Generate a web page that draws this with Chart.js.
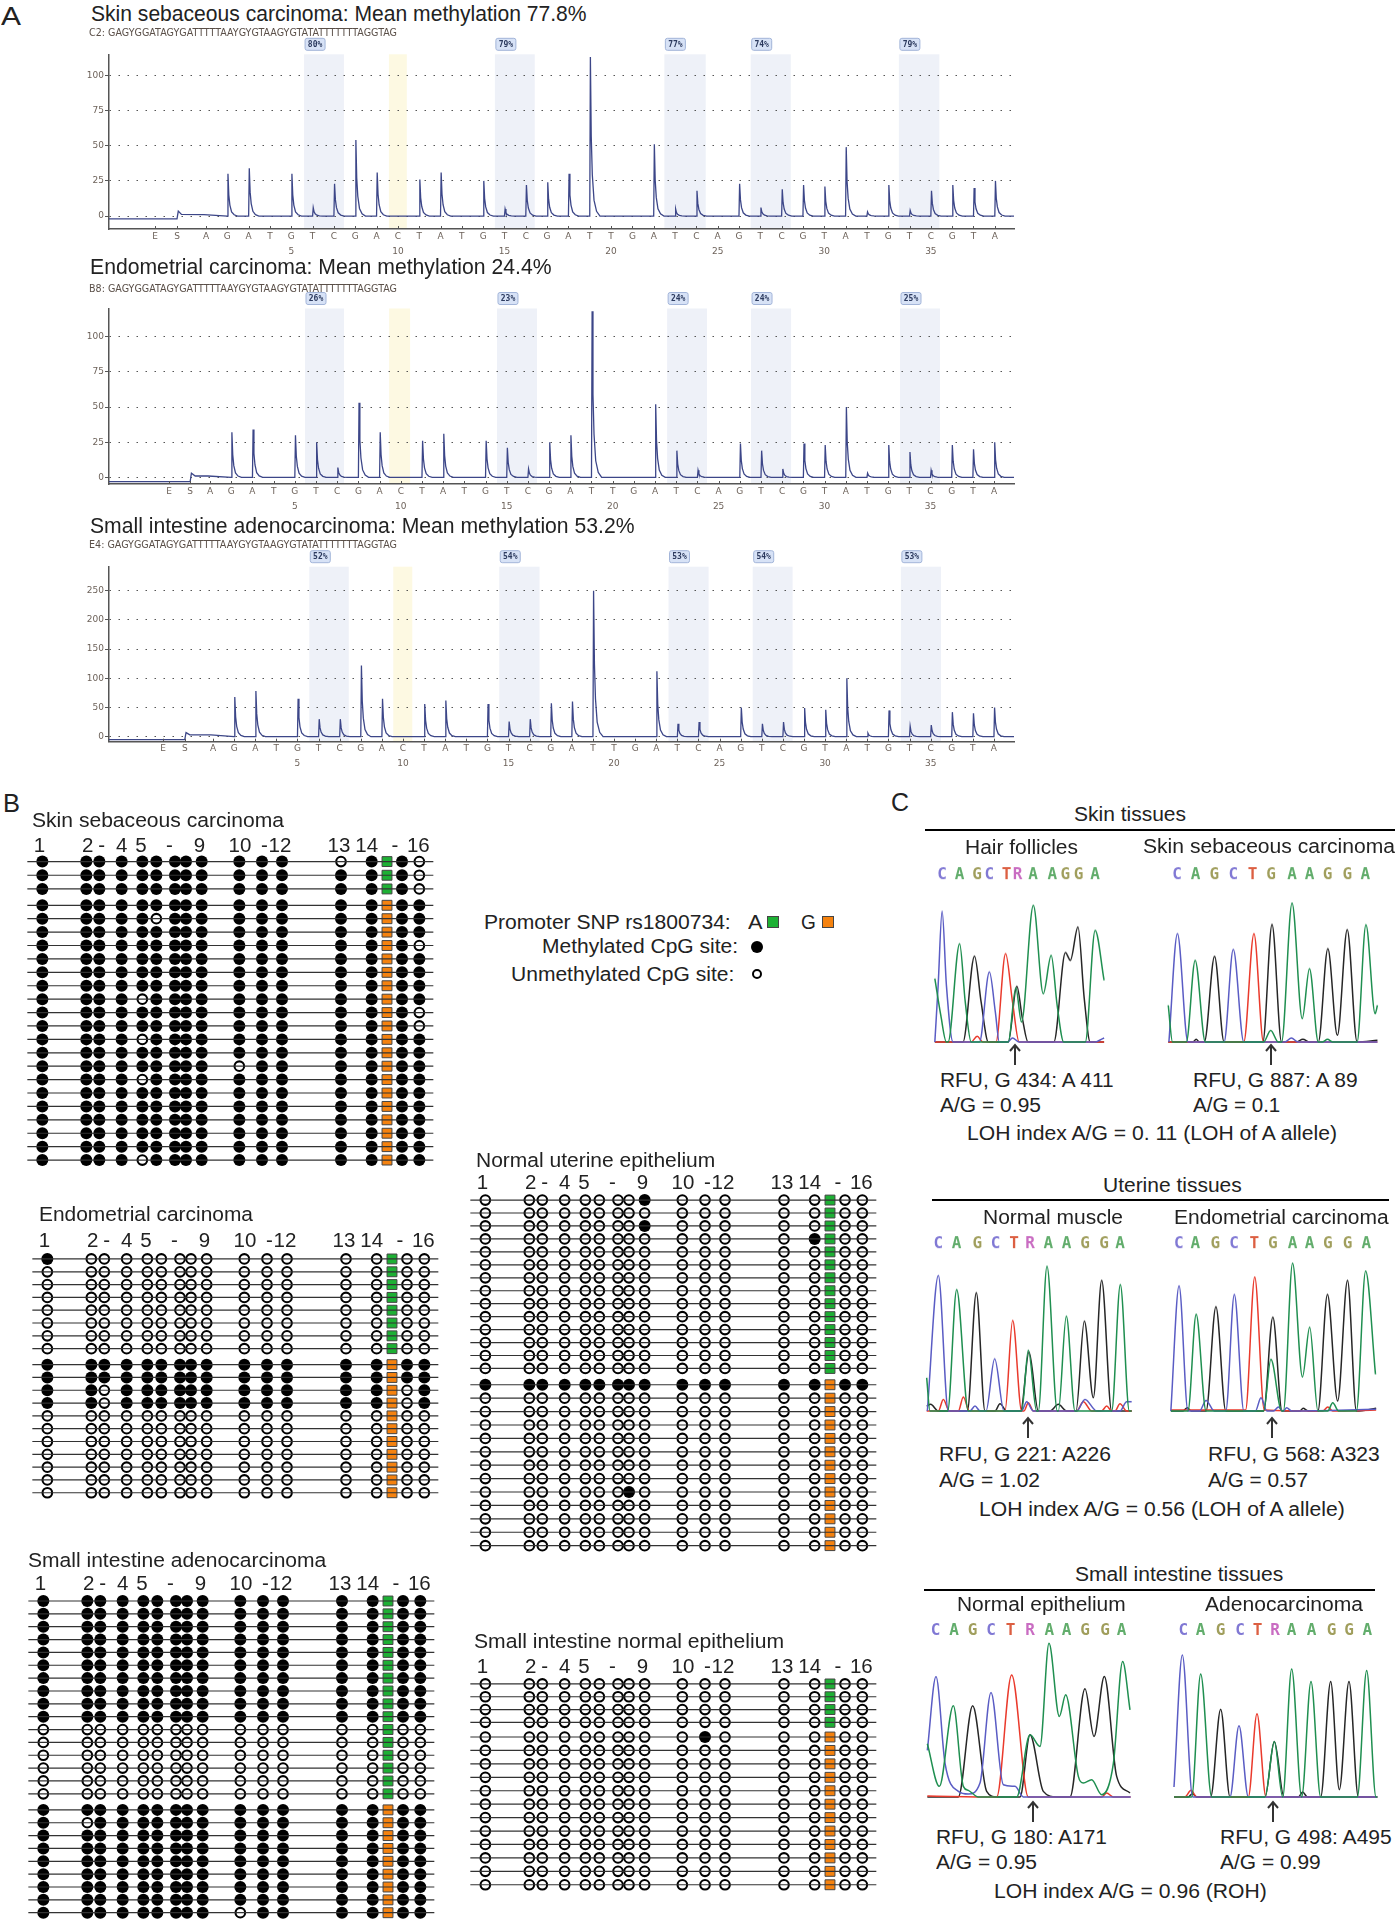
<!DOCTYPE html>
<html>
<head>
<meta charset="utf-8">
<title>MLH1 promoter methylation and LOH</title>
<script src="https://cdn.jsdelivr.net/npm/chart.js@4/dist/chart.umd.min.js"></script>
<style>
    html, body { margin: 0; padding: 0; background: #fff; }
    #page { position: relative; width: 1397px; height: 1920px; overflow: hidden; background: #fff; filter: blur(0.3px); }
    #page canvas { position: absolute; }
    .txt { position: absolute; white-space: pre; transform-origin: left center; color: #222; font-family: "Liberation Sans", Arial, sans-serif; }
    .box { position: absolute; box-sizing: border-box; }
</style>
</head>
<body>
<div id="page"></div>
<script>
// ---- panel A: pyrosequencing ----
const dispensation = ["A","G","A","T","G","T","C","G","A","C","T","A","T","G","T","C","G","A","T","T","G","A","T","C","A","G","T","C","G","T","A","T","G","T","C","G","T","A"];
const skinPeaks = [1,30,34,0,30,6,23,54,31,0,26,31,0,25,5,22,24,30,113,0,0,51,5,18,0,23,6,19,22,21,49,3,22,4,18,22,20,25];
const endoPeaks = [1,32,34,0,30,25,7,53,32,0,26,31,0,26,21,6,25,30,118,0,0,52,19,5,0,24,19,6,24,23,50,3,23,18,5,23,20,25];
const adenoPeaks = [2,68,78,0,65,30,30,122,65,0,56,62,0,56,26,30,57,60,250,0,0,112,22,25,0,50,22,25,49,46,100,6,45,18,20,42,40,50];
const skinPct = ["80%","79%","77%","74%","79%"];
const endoPct = ["26%","23%","24%","24%","25%"];
const adenoPct = ["52%","54%","53%","54%","53%"];
const skinBands = [[5.6,7.47],[14.55,16.42],[22.5,24.44],[26.55,28.43],[33.5,35.4]];
const endoBands = [[5.48,7.32],[14.54,16.43],[22.57,24.45],[26.53,28.42],[33.56,35.45]];
const adenoBands = [[5.56,7.43],[14.56,16.47],[22.58,24.48],[26.57,28.46],[33.59,35.49]];
const skinLead = [[-3.55,-2],[-0.36,-2],[-0.3,3.5],[-0.15,1.2],[0.9,1]];
const endoLead = [[-3.77,-3],[0.06,-3],[0.12,3],[0.3,1],[0.9,1]];
const adenoLead = [[-3.93,-5],[-0.34,-5],[-0.28,7],[-0.1,3],[0.9,3]];
const skinTicks = [0,25,50,75,100];
const adenoTicks = [0,50,100,150,200,250];

// ---- panel B: clones, one string per clone, 1 = methylated, 0 = unmethylated ----
const cpgSites = [127,259,298,365,427,469,525,558,605,718,786,846,1023,1115,1206,1258];
const snpSite = 1161;
const siteTicks = [118,263,305,365,423,508,598,720,793,840,1017,1100,1185,1255];
const siteLabels = ["1","2","-","4","5","-","9","10","-","12","13","14","-","16"];
const skinA = ["1111111111110110","1111111111111110","1111111111111110"];
const skinG = ["1111111111111111","1111101111111111","1111111111111111","1111111111111110","1111111111111111","1111111111111111","1111111111111111","1111011111111111","1111111111111110","1111111111111110","1111011111111111","1111111111111111","1111111110111111","1111011111111111","1111111111111111","1111111111111111","1111111111111111","1111111111111111","1111111111111111","1111011111111111"];
const endoA = ["1000000000000000","0000000000000000","0000000000000000","0000000000000000","0000000000000000","0000000000000000","0000000000000000","0000000000000000"];
const endoG = ["1111111111111111","1111111111111111","1101111111111101","1101111111111101","0000000000000000","0000000000000000","0000000000000000","0000000000000000","0000000000000000","0000000000000000","0000000000000000"];
const adenoA = ["1111111111111111","1111111111111111","1111111111111111","1111111111111111","1111111111111111","1111111111111111","1111111111111111","1111111111111111","1111111111111111","1111111111111111","0000000000000000","0000000000000000","0000000000000000","0000000000000000","0000000000000000","0000000000000000"];
const adenoG = ["1111111111111111","1011111111111111","1111111111111111","1111111111111111","1111111111111111","1111111111111111","1111111111111111","1111111111111111","1111111110111111"];
const uterineA = ["0000000010000000","0000000000000000","0000000010000000","0000000000000100","0000000000000000","0000000000000000","0000000000000000","0000000000000000","0000000000000000","0000000000000000","0000000000000000","0000000000000000","0000000000000000","0000000000000000"];
const uterineG = ["1111111111111111","0000000000000000","0000000000000000","0000000000000000","0000000000000000","0000000000000000","0000000000000000","0000000000000000","0000000100000000","0000000000000000","0000000000000000","0000000000000000","0000000000000000"];
const intestineA = ["0000000000000000","0000000000000000","0000000000000000","0000000000000000"];
const intestineG = ["0000000000100000","0000000000000000","0000000000000000","0000000000000000","0000000000000000","0000000000000000","0000000000000000","0000000000000000","0000000000000000","0000000000000000","0000000000000000","0000000000000000"];

// ---- panel C: electropherograms, [scan, signal] ----
const hairBlue = [[100,0],[110,170],[122,393],[135,170],[155,0],[235,0],[265,210],[283,90],[295,0],[320,0],[335,12],[355,0],[585,0],[600,6],[612,12]];
const hairGreen = [[100,190],[118,80],[135,0],[140,0],[175,295],[192,120],[210,0],[322,0],[345,163],[362,60],[398,410],[428,145],[452,260],[470,110],[490,0],[555,0],[585,335],[612,185]];
const hairBlack = [[100,0],[185,0],[220,258],[240,120],[262,0],[322,0],[348,167],[365,70],[382,0],[460,0],[495,268],[510,245],[533,345],[552,130],[570,0],[612,0]];
const hairRed = [[100,0],[210,0],[228,17],[245,0],[285,0],[314,265],[335,120],[355,0],[612,0]];

const sebBlue = [[797,0],[823,325],[855,0],[965,0],[993,278],[1025,0],[1150,0],[1170,12],[1190,0],[1432,0]];
const sebGreen = [[795,110],[808,0],[850,0],[877,245],[908,0],[1085,0],[1107,35],[1130,0],[1140,0],[1172,417],[1203,70],[1225,220],[1252,0],[1265,0],[1280,8],[1295,0],[1370,0],[1397,352],[1425,85],[1432,110]];
const sebBlack = [[795,0],[870,0],[880,8],[890,0],[905,0],[936,257],[965,0],[1083,0],[1111,353],[1140,0],[1185,0],[1205,8],[1225,0],[1252,0],[1281,280],[1310,20],[1340,337],[1370,0],[1432,5]];
const sebRed = [[795,0],[1025,0],[1056,325],[1085,0],[1432,0]];

const muscleBlue = [[82,0],[115,406],[145,0],[210,0],[225,15],[240,0],[258,0],[284,157],[312,0],[365,0],[380,28],[400,0],[530,0],[555,35],[590,0],[660,0],[680,28],[695,28]];
const muscleGreen = [[80,100],[90,0],[143,0],[170,364],[205,0],[365,0],[385,182],[410,0],[415,0],[441,434],[472,0],[475,0],[499,285],[525,0],[635,0],[661,379],[688,0],[695,0]];
const muscleBlack = [[80,15],[92,20],[115,0],[202,0],[229,355],[255,0],[285,0],[300,22],[320,0],[362,0],[387,177],[415,0],[450,0],[475,20],[500,0],[528,0],[553,270],[580,40],[605,392],[635,0],[695,0]];
const muscleRed = [[80,0],[115,0],[130,35],[148,0],[175,0],[190,42],[208,0],[315,0],[338,272],[365,0],[372,0],[385,25],[400,0],[530,0],[550,28],[575,0],[605,0],[620,15],[635,0],[645,0],[660,22],[680,0],[695,0]];

const endoBlue = [[808,0],[833,375],[860,0],[895,0],[915,32],[940,0],[975,0],[1001,350],[1030,0],[1065,0],[1082,40],[1100,0],[1120,0],[1135,12],[1148,0],[1150,0],[1160,10],[1175,0],[1432,5]];
const endoGreen = [[808,0],[860,0],[885,290],[915,0],[1090,0],[1112,155],[1145,0],[1150,0],[1178,443],[1208,102],[1230,252],[1255,0],[1285,0],[1300,25],[1318,0],[1372,0],[1400,420],[1430,110]];
const endoBlack = [[808,0],[845,0],[858,10],[870,0],[915,0],[945,313],[975,0],[1090,0],[1118,282],[1146,0],[1200,0],[1210,8],[1225,0],[1255,0],[1284,350],[1315,30],[1345,392],[1372,0],[1432,8]];
const endoRed = [[808,3],[1035,3],[1063,402],[1092,3],[1270,0],[1285,12],[1300,0],[1432,3]];

const epiBlue = [[82,140],[108,362],[135,102],[175,17],[205,9],[240,42],[273,314],[310,37],[345,32],[370,0],[692,0]];
const epiGreen = [[82,160],[118,32],[160,274],[190,32],[205,20],[235,0],[350,0],[390,187],[420,152],[447,462],[478,242],[497,307],[535,62],[550,42],[575,52],[605,7],[640,100],[668,407],[690,262]];
const epiBlack = [[82,0],[175,0],[218,274],[260,17],[290,0],[360,0],[390,187],[430,17],[470,0],[510,0],[555,325],[582,182],[613,362],[650,62],[690,12]];
const epiRed = [[82,3],[290,0],[335,367],[385,0],[605,0],[620,12],[640,0],[692,0]];

const carcBlue = [[822,30],[847,427],[878,0],[990,0],[1017,214],[1045,0],[1432,0]];
const carcGreen = [[822,0],[875,0],[902,370],[935,0],[1095,0],[1123,167],[1148,0],[1175,385],[1205,0],[1233,347],[1262,0],[1372,0],[1400,380],[1428,0],[1432,0]];
const carcBlack = [[822,0],[865,0],[877,10],[890,0],[932,0],[962,264],[990,0],[1095,0],[1123,167],[1152,0],[1195,0],[1208,15],[1222,0],[1262,0],[1292,347],[1318,22],[1347,347],[1375,0],[1432,0]];
const carcRed = [[822,0],[855,0],[873,20],[890,0],[1045,0],[1071,250],[1098,0],[1432,0]];

const hairBases = [[122,"C"],[175,"A"],[228,"G"],[265,"C"],[317,"T"],[350,"R"],[397,"A"],[455,"A"],[495,"G"],[535,"G"],[585,"A"]];
const sebBases = [[822,"C"],[878,"A"],[935,"G"],[993,"C"],[1052,"T"],[1108,"G"],[1172,"A"],[1225,"A"],[1280,"G"],[1340,"G"],[1395,"A"]];
const muscleBases = [[115,"C"],[170,"A"],[232,"G"],[287,"C"],[342,"T"],[390,"R"],[445,"A"],[500,"A"],[555,"G"],[612,"G"],[660,"A"]];
const endoBases = [[832,"C"],[882,"A"],[943,"G"],[1000,"C"],[1062,"T"],[1118,"G"],[1178,"A"],[1230,"A"],[1285,"G"],[1345,"G"],[1402,"A"]];
const epiBases = [[107,"C"],[162,"A"],[218,"G"],[273,"C"],[332,"T"],[390,"R"],[448,"A"],[500,"A"],[555,"G"],[615,"G"],[665,"A"]];
const carcBases = [[850,"C"],[902,"A"],[962,"G"],[1020,"C"],[1073,"T"],[1125,"R"],[1175,"A"],[1235,"A"],[1295,"G"],[1347,"G"],[1402,"A"]];

const page = document.getElementById("page");
Chart.defaults.font.family = "'Liberation Sans', Arial, sans-serif";
Chart.defaults.animation = false;
Chart.defaults.layout.autoPadding = false;

const addCanvas = (left, top, width, height) => {
    const canvas = document.createElement("canvas");
    canvas.width = width;
    canvas.height = height;
    canvas.style.left = left + "px";
    canvas.style.top = top + "px";
    canvas.style.width = width + "px";
    canvas.style.height = height + "px";
    page.appendChild(canvas);
    return canvas;
};

// text squeezed to the width it has in the figure
const addText = (str, left, right, cy, size, opts = {}) => {
    const el = document.createElement("div");
    el.className = "txt";
    el.textContent = str;
    el.style.left = left + "px";
    el.style.fontSize = size + "px";
    el.style.lineHeight = size * 1.2 + "px";
    el.style.top = cy - size * 0.6 + "px";
    if (opts.color) el.style.color = opts.color;
    if (opts.font) el.style.fontFamily = opts.font;
    page.appendChild(el);
    el.style.transform = "scaleX(" + (right - left) / el.getBoundingClientRect().width + ")";
};

const addBox = (left, top, width, height, css) => {
    const el = document.createElement("div");
    el.className = "box";
    el.style.cssText = `left:${left}px;top:${top}px;width:${width}px;height:${height}px;${css}`;
    page.appendChild(el);
};

const addArrow = (x, y1, y2) => {
    const svg = document.createElementNS("http://www.w3.org/2000/svg", "svg");
    svg.setAttribute("width", 16);
    svg.setAttribute("height", y2 - y1 + 2);
    svg.style.cssText = `position:absolute;left:${x - 8}px;top:${y1 - 1}px;`;
    const h = y2 - y1 + 1;
    svg.innerHTML = `<path d="M8 ${h}V2M3 8L8 2L13 8" fill="none" stroke="#333" stroke-width="2"/>`;
    page.appendChild(svg);
};

// sharp rise and a decaying tail for every dispensation that gave a signal
const peakShape = [[0,0],[0.03,1],[0.07,0.5],[0.12,0.26],[0.2,0.1],[0.32,0.03],[0.48,0]];
const buildTrace = (heights, lead, xMax) => {
    const pts = lead.map(([x, y]) => ({ x, y }));
    heights.forEach((h, i) => {
        if (h === 0 || i === 0) return;
        peakShape.forEach(([dx, k]) => pts.push({ x: i + 1 + dx, y: h * k }));
    });
    pts.push({ x: xMax, y: 0 });
    return pts;
};

const pyroPlugin = (bands, yellow, pct) => ({
    id: "pyroBands",
    beforeDraw(chart) {
        const { ctx, chartArea, scales } = chart;
        ctx.save();
        ctx.fillStyle = "#eef1f8";
        bands.forEach(([a, b]) => {
            const x0 = scales.x.getPixelForValue(a);
            ctx.fillRect(x0, chartArea.top, scales.x.getPixelForValue(b) - x0, chartArea.bottom - chartArea.top);
        });
        ctx.fillStyle = "#fdf9e2";
        const y0 = scales.x.getPixelForValue(yellow[0]);
        ctx.fillRect(y0, chartArea.top, scales.x.getPixelForValue(yellow[1]) - y0, chartArea.bottom - chartArea.top);
        ctx.restore();
    },
    afterDraw(chart) {
        const { ctx, chartArea, scales } = chart;
        ctx.save();
        // short marks sit inside the plot, above the axis line
        ctx.strokeStyle = "#555";
        ctx.lineWidth = 1;
        scales.x.ticks.forEach((t) => {
            const px = Math.round(scales.x.getPixelForValue(t.value)) + 0.5;
            ctx.beginPath();
            ctx.moveTo(px, chartArea.bottom);
            ctx.lineTo(px, chartArea.bottom - 3);
            ctx.stroke();
        });
        bands.forEach(([a], i) => {
            const x0 = scales.x.getPixelForValue(a);
            const y = chartArea.top - 16;
            ctx.beginPath();
            ctx.roundRect(x0 + 1, y, 20, 12, 2);
            ctx.fillStyle = "#d7e2f6";
            ctx.fill();
            ctx.strokeStyle = "#a3b5d9";
            ctx.stroke();
            ctx.fillStyle = "#2c3a5e";
            ctx.font = "bold 8px 'DejaVu Sans Mono'";
            ctx.textAlign = "center";
            ctx.textBaseline = "middle";
            ctx.fillText(pct[i], x0 + 11, y + 6.5);
        });
        ctx.restore();
    },
});

const drawPyro = (p) => {
    const canvas = addCanvas(80, p.top, 940, p.bottom - p.top);
    const tickValues = [p.ePos, p.sPos, ...dispensation.map((_, i) => i + 1)];
    const letters = ["E", "S", ...dispensation];
    return new Chart(canvas, {
        type: "scatter",
        data: {
            datasets: [{
                data: buildTrace(p.peaks, p.lead, p.xMax),
                showLine: true,
                borderColor: "#3c4688",
                borderWidth: 1.3,
                pointRadius: 0,
                tension: 0,
            }],
        },
        options: {
            responsive: false,
            layout: { padding: { top: p.plotTop - p.top, right: 6 } },
            plugins: { legend: { display: false }, tooltip: { enabled: false } },
            scales: {
                x: {
                    type: "linear",
                    min: p.xMin,
                    max: p.xMax,
                    afterBuildTicks: (s) => { s.ticks = tickValues.map((value) => ({ value })); },
                    afterFit: (s) => { s.height = p.bottom - p.plotBottom; },
                    grid: { display: false, drawTicks: false },
                    border: { color: "#555", width: 1.5 },
                    ticks: {
                        autoSkip: false,
                        maxRotation: 0,
                        padding: 0,
                        color: "#6d625a",
                        font: { size: 9, family: "'DejaVu Sans'", lineHeight: 1.65 },
                        callback: (value, i) => [letters[i], i >= 2 && (i - 1) % 5 === 0 ? String(i - 1) : ""],
                    },
                },
                y: {
                    min: p.yMin,
                    max: p.yMax,
                    afterBuildTicks: (s) => { s.ticks = p.ticks.map((value) => ({ value })); },
                    afterFit: (s) => { s.width = 29; },
                    grid: { color: "#555", tickLength: 4, tickColor: "#555", tickBorderDash: [] },
                    border: { color: "#555", width: 1.5, dash: [1.5, 7.5] },
                    ticks: { padding: 1, color: "#6d625a", font: { size: 9, family: "'DejaVu Sans'" } },
                },
            },
        },
        plugins: [pyroPlugin(p.bands, p.yellow, p.pct)],
    });
};

drawPyro({ top: 36, bottom: 261, plotTop: 54.3, plotBottom: 229, xMin: -3.55, xMax: 38.9, yMin: -9.2, yMax: 115,
    ePos: -1.39, sPos: -0.36, peaks: skinPeaks, lead: skinLead, ticks: skinTicks, bands: skinBands, yellow: [9.58,10.42], pct: skinPct });
drawPyro({ top: 288, bottom: 520, plotTop: 308.5, plotBottom: 484, xMin: -3.77, xMax: 38.94, yMin: -4.7, yMax: 120,
    ePos: -0.93, sPos: 0.06, peaks: endoPeaks, lead: endoLead, ticks: skinTicks, bands: endoBands, yellow: [9.45,10.44], pct: endoPct });
drawPyro({ top: 546, bottom: 775, plotTop: 566.7, plotBottom: 741.7, xMin: -3.93, xMax: 38.95, yMin: -8.6, yMax: 291,
    ePos: -1.37, sPos: -0.34, peaks: adenoPeaks, lead: adenoLead, ticks: adenoTicks, bands: adenoBands, yellow: [9.54,10.44], pct: adenoPct });

// clone plots: one line per clone with the 16 CpG sites and the SNP allele on it
const drawClones = (p) => {
    const axisH = 30;
    const rows = [];
    p.a.forEach((r, i) => rows.push({ r, y: i, allele: "A" }));
    const gStart = p.a.length + p.gap;
    p.g.forEach((r, i) => rows.push({ r, y: gStart + i * p.ratio, allele: "G" }));
    const lastY = rows[rows.length - 1].y;
    const plotTop = p.firstRow - 0.7 * p.step;
    const plotH = (lastY + 0.8) * p.step + 0.7 * p.step;
    const height = Math.ceil(plotH + axisH);
    const top = plotTop - axisH;
    const canvas = addCanvas(p.shift + 20, top, 425, height);

    const datasets = rows.map((row) => ({
        data: [{ x: 82, y: row.y }, { x: 1300, y: row.y }],
        showLine: true,
        borderColor: "#333",
        borderWidth: 1.2,
        pointRadius: 0,
    }));
    const marks = [];
    rows.forEach((row) => {
        cpgSites.forEach((x, i) => marks.push({ x, y: row.y, on: row.r[i] === "1" }));
    });
    datasets.push({
        data: marks,
        pointRadius: (c) => (c.raw.on ? 6 : 4.8),
        pointBackgroundColor: (c) => (c.raw.on ? "#000" : "#fff"),
        pointBorderColor: "#000",
        pointBorderWidth: (c) => (c.raw.on ? 0 : 2.1),
    });
    datasets.push({
        data: rows.map((row) => ({ x: snpSite, y: row.y, allele: row.allele })),
        pointStyle: "rect",
        pointRadius: 7,
        pointBackgroundColor: (c) => (c.raw.allele === "A" ? "#1db034" : "#f5820f"),
        pointBorderColor: "#444",
        pointBorderWidth: 1,
    });

    return new Chart(canvas, {
        type: "scatter",
        data: { datasets },
        options: {
            responsive: false,
            plugins: { legend: { display: false }, tooltip: { enabled: false } },
            scales: {
                x: {
                    type: "linear",
                    position: "top",
                    min: 60,
                    max: 60 + 425 * 3,
                    afterBuildTicks: (s) => { s.ticks = siteTicks.map((value) => ({ value })); },
                    afterFit: (s) => { s.height = axisH; },
                    grid: { display: false, drawTicks: false },
                    border: { display: false },
                    ticks: {
                        autoSkip: false,
                        maxRotation: 0,
                        padding: p.labelPad,
                        color: "#222",
                        font: { size: 20.5 },
                        callback: (value, i) => siteLabels[i],
                    },
                },
                y: {
                    display: false,
                    reverse: true,
                    min: -0.7,
                    max: plotH / p.step - 0.7,
                },
            },
        },
    });
};

drawClones({ a: skinA, g: skinG, shift: 0, firstRow: 861.7, step: 13.67, gap: 0.195, ratio: 0.98, labelPad: -6.5 });
drawClones({ a: endoA, g: endoG, shift: 4.67, firstRow: 1259.3, step: 12.78, gap: 0.25, ratio: 1, labelPad: -4 });
drawClones({ a: adenoA, g: adenoG, shift: 0.67, firstRow: 1601.3, step: 12.82, gap: 0.25, ratio: 1, labelPad: -5 });
drawClones({ a: uterineA, g: uterineG, shift: 442.7, firstRow: 1199.9, step: 12.95, gap: 0.26, ratio: 1.035, labelPad: -5 });
drawClones({ a: intestineA, g: intestineG, shift: 443.3, firstRow: 1684, step: 12.78, gap: 0.148, ratio: 1.05, labelPad: -5 });

// electropherograms
const baseColors = { C: "#8078d4", A: "#62ad6c", G: "#a09e5c", T: "#dc5f42", R: "#c96cc2" };
const drawTraces = (p) => {
    const axisH = 45;
    const canvas = addCanvas(p.left, p.plotTop - axisH, p.width, p.plotBottom - p.plotTop + axisH);
    const toPoints = (arr) => arr.map(([x, y]) => ({ x, y }));
    const line = (arr, color) => ({
        data: toPoints(arr),
        showLine: true,
        borderColor: color,
        borderWidth: 1.5,
        pointRadius: 0,
        cubicInterpolationMode: "monotone",
    });
    return new Chart(canvas, {
        type: "scatter",
        data: {
            datasets: [
                line(p.green, "#1f8f50"),
                line(p.blue, "#5a5cc4"),
                line(p.red, "#ea3a2c"),
                line(p.black, "#262626"),
            ],
        },
        options: {
            responsive: false,
            plugins: { legend: { display: false }, tooltip: { enabled: false } },
            scales: {
                x: {
                    type: "linear",
                    position: "top",
                    min: (p.left - 900) * 3,
                    max: (p.left + p.width - 900) * 3,
                    afterBuildTicks: (s) => { s.ticks = p.bases.map(([value]) => ({ value })); },
                    afterFit: (s) => { s.height = axisH; },
                    grid: { display: false, drawTicks: false },
                    border: { display: false },
                    ticks: {
                        autoSkip: false,
                        maxRotation: 0,
                        padding: p.letterGap,
                        color: (c) => baseColors[p.bases[c.index][1]],
                        font: { size: 16, weight: "bold", family: "'DejaVu Sans Mono'" },
                        callback: (value, i) => p.bases[i][1],
                    },
                },
                y: {
                    display: false,
                    min: -6,
                    max: (p.plotBottom - p.plotTop) * 3 - 6,
                },
            },
        },
    });
};

drawTraces({ left: 925, width: 190, plotTop: 897, plotBottom: 1043.7, letterGap: 12.3, bases: hairBases, blue: hairBlue, green: hairGreen, black: hairBlack, red: hairRed });
drawTraces({ left: 1160, width: 225, plotTop: 897, plotBottom: 1043.7, letterGap: 12.3, bases: sebBases, blue: sebBlue, green: sebGreen, black: sebBlack, red: sebRed });
drawTraces({ left: 922, width: 215, plotTop: 1262, plotBottom: 1412.7, letterGap: 9, bases: muscleBases, blue: muscleBlue, green: muscleGreen, black: muscleBlack, red: muscleRed });
drawTraces({ left: 1165, width: 215, plotTop: 1262, plotBottom: 1412.7, letterGap: 9, bases: endoBases, blue: endoBlue, green: endoGreen, black: endoBlack, red: endoRed });
drawTraces({ left: 920, width: 215, plotTop: 1640, plotBottom: 1799.3, letterGap: 0, bases: epiBases, blue: epiBlue, green: epiGreen, black: epiBlack, red: epiRed });
drawTraces({ left: 1170, width: 210, plotTop: 1640, plotBottom: 1799.3, letterGap: 0, bases: carcBases, blue: carcBlue, green: carcGreen, black: carcBlack, red: carcRed });

// ---- text, rules and legend ----
const seqFont = "'DejaVu Sans', sans-serif";
addText("A", 1, 21, 16, 25);
addText("B", 3, 20, 803, 25);
addText("C", 891, 909, 802, 25);
addText("Skin sebaceous carcinoma: Mean methylation 77.8%", 90.5, 586, 14, 22);
addText("C2: GAGYGGATAGYGATTTTTAAYGYGTAAGYGTATATTTTTTTAGGTAG", 89, 397, 33, 10, { color: "#5a4f48", font: seqFont });
addText("Endometrial carcinoma: Mean methylation 24.4%", 89.5, 551, 267, 22);
addText("B8: GAGYGGATAGYGATTTTTAAYGYGTAAGYGTATATTTTTTTAGGTAG", 89, 397, 289, 10, { color: "#5a4f48", font: seqFont });
addText("Small intestine adenocarcinoma: Mean methylation 53.2%", 89.5, 634, 526, 22);
addText("E4: GAGYGGATAGYGATTTTTAAYGYGTAAGYGTATATTTTTTTAGGTAG", 89, 397, 545, 10, { color: "#5a4f48", font: seqFont });

addText("Skin sebaceous carcinoma", 32, 284, 820.7, 20.5);
addText("Endometrial carcinoma", 39, 253, 1214, 20.5);
addText("Small intestine adenocarcinoma", 27.7, 326, 1560, 20.5);
addText("Normal uterine epithelium", 475.7, 715, 1160, 20.5);
addText("Small intestine normal epithelium", 474, 784, 1641.7, 20.5);

addText("Promoter SNP rs1800734:", 484.3, 731, 922, 20);
addText("A", 748, 762.5, 922, 20);
addBox(766.7, 916, 12.6, 12, "background:#1db034;border:1px solid #444;");
addText("G", 800.7, 815.5, 922, 20);
addBox(822, 916, 12, 12, "background:#f5820f;border:1px solid #444;");
addText("Methylated CpG site:", 541.7, 737.7, 945.8, 20);
addBox(751.3, 941, 12, 12, "background:#000;border-radius:50%;");
addText("Unmethylated CpG site:", 510.7, 734, 973.7, 20);
addBox(752.3, 969, 10, 10, "background:#fff;border:2px solid #000;border-radius:50%;");

addText("Skin tissues", 1073.7, 1185.7, 814.3, 20);
addBox(925, 829, 470, 2, "background:#000;");
addText("Hair follicles", 964.7, 1077.7, 847.3, 20);
addText("Skin sebaceous carcinoma", 1142.7, 1394.7, 846, 20);
addText("RFU, G 434: A 411", 939.7, 1113.3, 1080, 20);
addText("A/G = 0.95", 939.7, 1040.7, 1105.3, 20);
addText("RFU, G 887: A 89", 1192.7, 1357.3, 1080, 20);
addText("A/G = 0.1", 1192.7, 1280, 1105.3, 20);
addText("LOH index A/G = 0. 11 (LOH of A allele)", 967.3, 1337.3, 1132.7, 20);
addArrow(1015, 1044, 1065);
addArrow(1271, 1044, 1065);

addText("Uterine tissues", 1103, 1241.7, 1185, 20);
addBox(932.3, 1199, 456.7, 2, "background:#000;");
addText("Normal muscle", 983.3, 1123.3, 1216.7, 20);
addText("Endometrial carcinoma", 1174, 1388.7, 1216.7, 20);
addText("RFU, G 221: A226", 939, 1111, 1454.3, 20);
addText("A/G = 1.02", 939, 1040, 1479.7, 20);
addText("RFU, G 568: A323", 1208.3, 1380, 1454.3, 20);
addText("A/G = 0.57", 1208.3, 1308.3, 1479.7, 20);
addText("LOH index A/G = 0.56 (LOH of A allele)", 979, 1344.7, 1509.3, 20);
addArrow(1028.3, 1417, 1438);
addArrow(1272.3, 1417, 1438);

addText("Small intestine tissues", 1075, 1283.3, 1574.3, 20);
addBox(924, 1589, 451.3, 2, "background:#000;");
addText("Normal epithelium", 957.3, 1126, 1604.3, 20);
addText("Adenocarcinoma", 1205.3, 1363.3, 1604.3, 20);
addText("RFU, G 180: A171", 935.7, 1106.7, 1836.7, 20);
addText("A/G = 0.95", 935.7, 1036.7, 1862.3, 20);
addText("RFU, G 498: A495", 1220, 1391.7, 1836.7, 20);
addText("A/G = 0.99", 1220, 1320.7, 1862.3, 20);
addText("LOH index A/G = 0.96 (ROH)", 994, 1266.7, 1891, 20);
addArrow(1033.3, 1801, 1822);
addArrow(1273.3, 1801, 1822);
</script>
</body>
</html>
